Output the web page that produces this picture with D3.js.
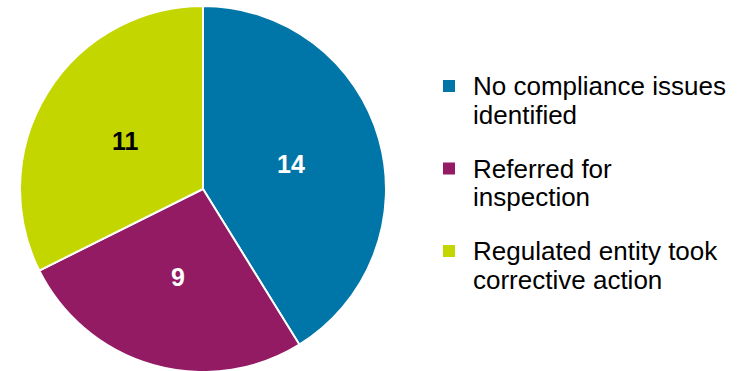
<!DOCTYPE html>
<html>
<head>
<meta charset="utf-8">
<script src="https://cdn.jsdelivr.net/npm/d3@7"></script>
<style>
  body { margin: 0; background: #fff; }
  svg { display: block; font-family: "Liberation Sans", Arial, sans-serif; }
</style>
</head>
<body>
<svg id="chart" width="744" height="371"></svg>
<script>
// outcome categories, counts and colours
var categories = ["No compliance issues identified", "Referred for inspection", "Regulated entity took corrective action"];
var legendLines = [["No compliance issues", "identified"], ["Referred for", "inspection"], ["Regulated entity took", "corrective action"]];
var counts = [14, 9, 11];
var colors = ["#0076A8", "#921B64", "#C4D600"];
var labelColors = ["#ffffff", "#ffffff", "#000000"];

var svg = d3.select("#chart");
var cx = 203, cy = 189, r = 183;

var pie = d3.pie().sort(null).value(function(d){ return d; });
var arcs = pie(counts);
var arc = d3.arc().innerRadius(0).outerRadius(r);
var labelArc = d3.arc().innerRadius(r * 0.5).outerRadius(r * 0.5);

var g = svg.append("g").attr("transform", "translate(" + cx + "," + cy + ")");

g.selectAll("path")
  .data(arcs)
  .enter().append("path")
  .attr("d", arc)
  .attr("fill", function(d, i){ return colors[i]; })
  .attr("stroke", "#fff")
  .attr("stroke-width", 2);

g.selectAll("text.val")
  .data(arcs)
  .enter().append("text")
  .attr("class", "val")
  .attr("transform", function(d){ return "translate(" + labelArc.centroid(d) + ")"; })
  .attr("text-anchor", "middle")
  .attr("dy", "0.36em")
  .attr("font-size", 25)
  .attr("font-weight", "bold")
  .attr("fill", function(d, i){ return labelColors[i]; })
  .text(function(d){ return d.data; });

// legend
var legend = svg.append("g").attr("transform", "translate(443,80)");
var item = legend.selectAll("g")
  .data(categories)
  .enter().append("g")
  .attr("transform", function(d, i){ return "translate(0," + (i * 82.5) + ")"; });

item.append("rect")
  .attr("width", 12).attr("height", 12)
  .attr("fill", function(d, i){ return colors[i]; });

item.append("text")
  .attr("x", 30)
  .attr("y", 15)
  .attr("font-size", 26)
  .attr("fill", "#000")
  .selectAll("tspan")
  .data(function(d, i){ return legendLines[i]; })
  .enter().append("tspan")
  .attr("x", 30)
  .attr("dy", function(d, j){ return j === 0 ? 0 : 28.5; })
  .text(function(d){ return d; });
</script>
</body>
</html>
